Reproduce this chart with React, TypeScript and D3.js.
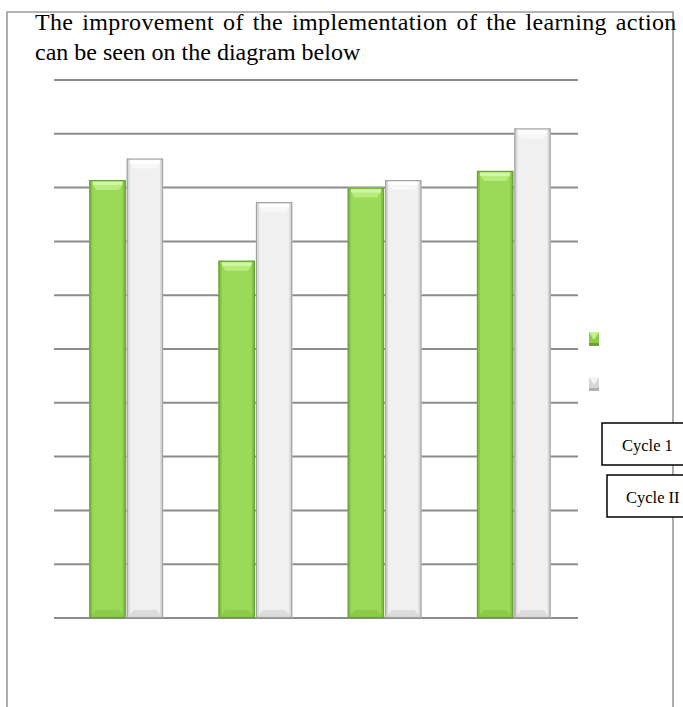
import React from "react";
import * as d3 from "d3";

const categories = ["A", "B", "C", "D"];
const seriesNames = ["Cycle 1", "Cycle II"];
const cycle1 = [81.4, 66.4, 80.0, 83.1];
const cycle2 = [85.4, 77.3, 81.4, 91.0];
const yTicks = [0, 10, 20, 30, 40, 50, 60, 70, 80, 90, 100];
const titleLines = [
  "The improvement of the implementation of the learning action",
  "can be seen on the diagram below",
];

const W = 683;
const H = 707;

type Pal = { main: string; edge: string; top: string; topHi: string; side: string; bottom: string };
const pals: Pal[] = [
  { main: "#9ADA58", edge: "#6B9F38", top: "#B8EC7C", topHi: "#D2F7A4", side: "#86C446", bottom: "#8BCB4C" },
  { main: "#F0F0F0", edge: "#A3A3A3", top: "#F8F8F8", topHi: "#FFFFFF", side: "#D9D9D9", bottom: "#DCDCDC" },
];
const legendPals = [
  { main: "#8CCB4C", hi: "#C6F294", dark: "#6E9F3A" },
  { main: "#D6D6D6", hi: "#F4F4F4", dark: "#B0B0B0" },
];

function BevelBar({ x, y, w, h, p }: { x: number; y: number; w: number; h: number; p: Pal }) {
  const s = 3;
  const t = Math.min(10, h / 2);
  const ix = 7;
  const b = Math.min(8, h / 2);
  return (
    <g>
      <rect x={x} y={y} width={w} height={h} fill={p.main} />
      <polygon
        points={`${x},${y} ${x + w},${y} ${x + w - ix},${y + t} ${x + ix},${y + t}`}
        fill={p.top}
      />
      <polygon
        points={`${x + 2},${y + 2} ${x + w - 2},${y + 2} ${x + w - 4},${y + 5} ${x + 4},${y + 5}`}
        fill={p.topHi}
      />
      <polygon
        points={`${x + ix},${y + h - b} ${x + w - ix},${y + h - b} ${x + w},${y + h} ${x},${y + h}`}
        fill={p.bottom}
      />
      <rect x={x} y={y} width={s} height={h} fill={p.side} />
      <rect x={x + w - s} y={y} width={s} height={h} fill={p.side} />
      <rect x={x + 0.5} y={y + 0.5} width={w - 1} height={h - 1} fill="none" stroke={p.edge} strokeWidth={1.2} />
    </g>
  );
}

export default function App() {
  const baseline = 618;
  const yTop = 80;
  const y = d3.scaleLinear().domain([0, 100]).range([baseline, yTop]);
  const x0 = d3
    .scaleBand<string>()
    .domain(categories)
    .range([61.6, 578.4])
    .paddingInner(0.43)
    .paddingOuter(0.215);
  const x1 = d3
    .scaleBand<string>()
    .domain(seriesNames)
    .range([0, x0.bandwidth()])
    .paddingInner(0.03);
  const series = [cycle1, cycle2];
  const gridX1 = 54;
  const gridX2 = 578;

  return (
    <svg
      width={W}
      height={H}
      style={{ position: "absolute", left: 0, top: 0 }}
      fontFamily="'Liberation Serif', 'Times New Roman', serif"
    >
      <rect x={0} y={0} width={W} height={H} fill="#ffffff" />
      {/* outer frame */}
      <path d={`M7,${H} L7,12 L673,12 L673,${H}`} fill="none" stroke="#9a9a9a" strokeWidth={1.6} />
      {/* title */}
      <text x={35} y={30} fontSize={24} fill="#000" letterSpacing={0.35} wordSpacing={2.6}>
        {titleLines[0]}
      </text>
      <text x={35} y={60} fontSize={24} fill="#000">
        {titleLines[1]}
      </text>
      {/* gridlines */}
      {yTicks.map((v) => (
        <line
          key={v}
          x1={gridX1}
          x2={gridX2}
          y1={y(v)}
          y2={y(v)}
          stroke="#8c8c8c"
          strokeWidth={2}
        />
      ))}
      {/* bars */}
      {categories.map((c, ci) => (
        <g key={c}>
          {seriesNames.map((s, si) => {
            const v = series[si][ci];
            const bx = (x0(c) as number) + (x1(s) as number);
            const by = y(v);
            return (
              <BevelBar key={s} x={bx} y={by} w={x1.bandwidth()} h={baseline - by} p={pals[si]} />
            );
          })}
        </g>
      ))}
      {/* legend markers */}
      {seriesNames.map((s, si) => {
        const ly = 332 + si * 45;
        const lp = legendPals[si];
        return (
          <g key={s}>
            <rect x={589} y={ly} width={10} height={14} fill={lp.main} />
            <polygon points={`${589},${ly} ${599},${ly} ${594},${ly + 8}`} fill={lp.hi} />
            <rect x={589} y={ly + 11} width={10} height={3} fill={lp.dark} />
          </g>
        );
      })}
      {/* label boxes */}
      {seriesNames.map((s, si) => {
        const bx = si === 0 ? 602 : 607;
        const by = si === 0 ? 423 : 475;
        return (
          <g key={s}>
            <rect x={bx} y={by} width={100} height={42} fill="#fff" stroke="#000" strokeWidth={1.5} />
            <text x={si === 0 ? 622 : 626} y={by + 28} fontSize={16.5} fill="#000">
              {s}
            </text>
          </g>
        );
      })}
    </svg>
  );
}
